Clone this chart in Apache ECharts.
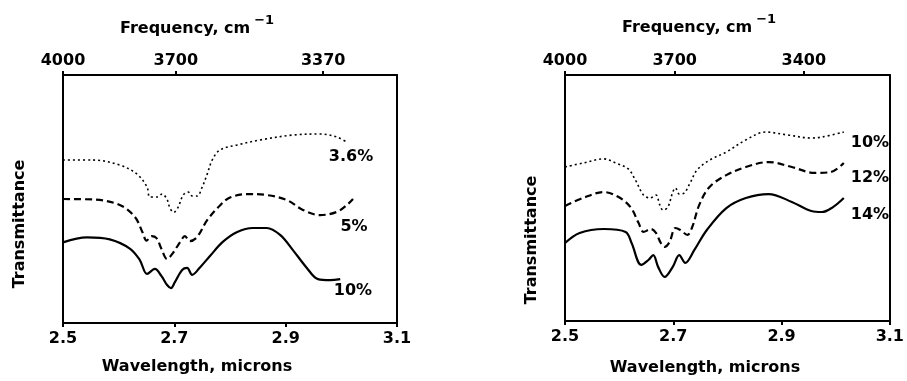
<!DOCTYPE html>
<html><head><meta charset="utf-8">
<script src="https://cdn.jsdelivr.net/npm/echarts@6/dist/echarts.min.js"></script>
<style>html,body{margin:0;padding:0;background:#fff}#c{width:907px;height:381px}</style>
</head><body><div id="c"></div>
<script>
// ---- data (wavelength in microns, transmittance in arbitrary units) ----
const wavelengthTicks = [2.5, 2.7, 2.9, 3.1];
const freqTicksLeft = [4000, 3700, 3370];
const freqTicksRight = [4000, 3700, 3400];

const left36_w = [2.5,2.554,2.602,2.633,2.651,2.656,2.669,2.678,2.687,2.692,2.699,2.707,2.716,2.725,2.732,2.741,2.750,2.759,2.768,2.782,2.813,2.854,2.913,2.962,2.992,3.012];
const left36_v = [65.7,65.7,63.7,60,54.8,50.8,50.8,52,49.8,46.4,44.6,46.8,51.6,52.8,51.2,51.2,54.8,60,65.7,69.8,71.8,73.8,75.8,76.2,75,72.6];
const left5_w = [2.5,2.554,2.602,2.629,2.643,2.650,2.659,2.668,2.677,2.687,2.698,2.710,2.719,2.728,2.741,2.759,2.782,2.800,2.831,2.866,2.902,2.931,2.962,2.992,3.010,3.021];
const left5_v = [50,49.8,47.6,42.8,36.5,33.2,35,34.2,29.8,25.8,28.4,32.5,35,33,34.7,41.5,47.4,50.6,52,51.6,49.6,45.6,43.5,44.8,47.6,50];
const left10_w = [2.5,2.543,2.584,2.620,2.638,2.651,2.665,2.677,2.687,2.694,2.701,2.714,2.723,2.732,2.746,2.764,2.787,2.813,2.841,2.866,2.890,2.913,2.938,2.958,2.980,2.998];
const left10_v = [32.5,34.5,33.7,30,25.4,19.8,21.8,18.9,15.3,14.1,16.5,21.4,22.2,19.4,22.4,27,32.7,36.7,38.3,38.3,35.5,29.4,22.2,17.7,17.3,17.7];

const right10_w = [2.5,2.533,2.572,2.594,2.617,2.630,2.645,2.657,2.668,2.675,2.681,2.690,2.699,2.704,2.711,2.720,2.731,2.744,2.767,2.798,2.834,2.870,2.912,2.955,2.975,3.015];
const right10_v = [62.6,64.2,65.9,64.2,61.8,57.3,51.2,50,51.2,47.2,45.1,46.3,52.4,54.1,51.6,52,56.1,61.4,65.4,68.7,73.6,76.8,75.6,74.4,74.8,76.8];
const right12_w = [2.5,2.533,2.572,2.599,2.621,2.636,2.645,2.659,2.668,2.677,2.684,2.693,2.704,2.713,2.726,2.735,2.748,2.767,2.798,2.834,2.876,2.919,2.961,2.990,3.015];
const right12_v = [46.7,50,52.4,50.4,46.3,39.8,36.2,37.4,35.8,31.7,30.1,32.1,37.8,37,35,38.2,47.2,54.5,59.3,62.6,64.6,62.6,60.2,60.5,64.2];
const right14_w = [2.5,2.527,2.572,2.612,2.623,2.641,2.654,2.663,2.672,2.684,2.699,2.711,2.722,2.739,2.762,2.798,2.834,2.876,2.919,2.955,2.975,2.995,3.015];
const right14_v = [31.7,35.8,37.4,36.2,31.7,22.8,24.8,26.8,22,17.9,22,26.8,23.6,28.9,37,45.9,50,51.6,48.4,44.7,44.3,46.3,50];

const seriesLabelsLeft = ['3.6%', '5%', '10%'];
const seriesLabelsRight = ['10%', '12%', '14%'];
// ------------------------------------------------------------------------

const FONT = 'DejaVu Sans';
const FS = 16;
const zip = (w, v) => w.map((x, i) => [x, v[i]]);
const freqToWl = f => 10000 / f;

function bottomAxis(gi) {
  return {
    type: 'value', gridIndex: gi, position: 'bottom', min: 2.5, max: 3.1,
    axisLine: {show: true, onZero: false, lineStyle: {color: '#000', width: 2}},
    axisTick: {show: true, inside: false, customValues: wavelengthTicks, length: 4, lineStyle: {color: '#000', width: 2}},
    axisLabel: {show: true, customValues: wavelengthTicks, margin: 8, color: '#000',
      fontFamily: FONT, fontSize: FS, fontWeight: 'bold', formatter: v => v.toFixed(1)},
    splitLine: {show: false}
  };
}
function topAxis(gi, freqs) {
  const vals = freqs.map(freqToWl);
  return {
    type: 'value', gridIndex: gi, position: 'top', min: 2.5, max: 3.1,
    axisLine: {show: true, onZero: false, lineStyle: {color: '#000', width: 2}},
    axisTick: {show: true, inside: false, customValues: vals, length: 4, lineStyle: {color: '#000', width: 2}},
    axisLabel: {show: true, customValues: vals, margin: 6, color: '#000',
      fontFamily: FONT, fontSize: FS, fontWeight: 'bold', formatter: v => String(Math.round(10000 / v / 10) * 10)},
    splitLine: {show: false}
  };
}
function yAx(gi, pos) {
  return {
    type: 'value', gridIndex: gi, position: pos, min: 0, max: 100,
    axisLine: {show: true, onZero: false, lineStyle: {color: '#000', width: 2}},
    axisTick: {show: false}, axisLabel: {show: false}, splitLine: {show: false}
  };
}
const dotted = {color: '#000', width: 1.6, type: [2, 3]};
const dashed = {color: '#000', width: 2.2, type: [7, 4]};
const solid = {color: '#000', width: 2.2, type: 'solid'};
function ser(name, xi, yi, data, ls) {
  return {name, type: 'line', xAxisIndex: xi, yAxisIndex: yi, data, smooth: 0.35,
    showSymbol: false, symbol: 'none', lineStyle: ls, silent: true, animation: false};
}
const txt = (text, x, y, extra) => Object.assign({
  type: 'text', x, y, silent: true,
  style: Object.assign({text, fill: '#000', font: 'bold ' + FS + 'px ' + FONT, align: 'center', verticalAlign: 'middle'}, extra || {})
});
const supTitle = (x, y) => ({type: 'text', x, y, silent: true, style: {
  text: '{a|Frequency, cm}{b|−1}', fill: '#000',
  rich: {a: {fontFamily: FONT, fontSize: FS, fontWeight: 'bold', fill: '#000', verticalAlign: 'bottom'},
         b: {fontFamily: FONT, fontSize: 13, fontWeight: 'bold', fill: '#000', padding: [0, 0, 10, 4], verticalAlign: 'bottom'}}}});

const chart = echarts.init(document.getElementById('c'), null, {renderer: 'canvas'});
chart.setOption({
  animation: false,
  backgroundColor: '#fff',
  grid: [
    {left: 63, right: 510, top: 75, bottom: 58},
    {left: 565, right: 10, top: 75, bottom: 60}
  ],
  xAxis: [bottomAxis(0), topAxis(0, freqTicksLeft), bottomAxis(1), topAxis(1, freqTicksRight)],
  yAxis: [yAx(0, 'left'), yAx(0, 'right'), yAx(1, 'left'), yAx(1, 'right')],
  series: [
    ser(seriesLabelsLeft[0], 0, 0, zip(left36_w, left36_v), dotted),
    ser(seriesLabelsLeft[1], 0, 0, zip(left5_w, left5_v), dashed),
    ser(seriesLabelsLeft[2], 0, 0, zip(left10_w, left10_v), solid),
    ser(seriesLabelsRight[0], 2, 2, zip(right10_w, right10_v), dotted),
    ser(seriesLabelsRight[1], 2, 2, zip(right12_w, right12_v), dashed),
    ser(seriesLabelsRight[2], 2, 2, zip(right14_w, right14_v), solid)
  ],
  graphic: [
    supTitle(120, 14),
    supTitle(622, 13),
    txt('Wavelength, microns', 197, 367),
    txt('Wavelength, microns', 705, 368),
    Object.assign(txt('Transmittance', 20, 224), {rotation: Math.PI / 2}),
    Object.assign(txt('Transmittance', 532, 240), {rotation: Math.PI / 2}),
    txt(seriesLabelsLeft[0], 351, 157),
    txt(seriesLabelsLeft[1], 354, 227),
    txt(seriesLabelsLeft[2], 353, 291),
    txt(seriesLabelsRight[0], 870, 143),
    txt(seriesLabelsRight[1], 870, 178),
    txt(seriesLabelsRight[2], 870, 215)
  ]
});
</script>
</body></html>
